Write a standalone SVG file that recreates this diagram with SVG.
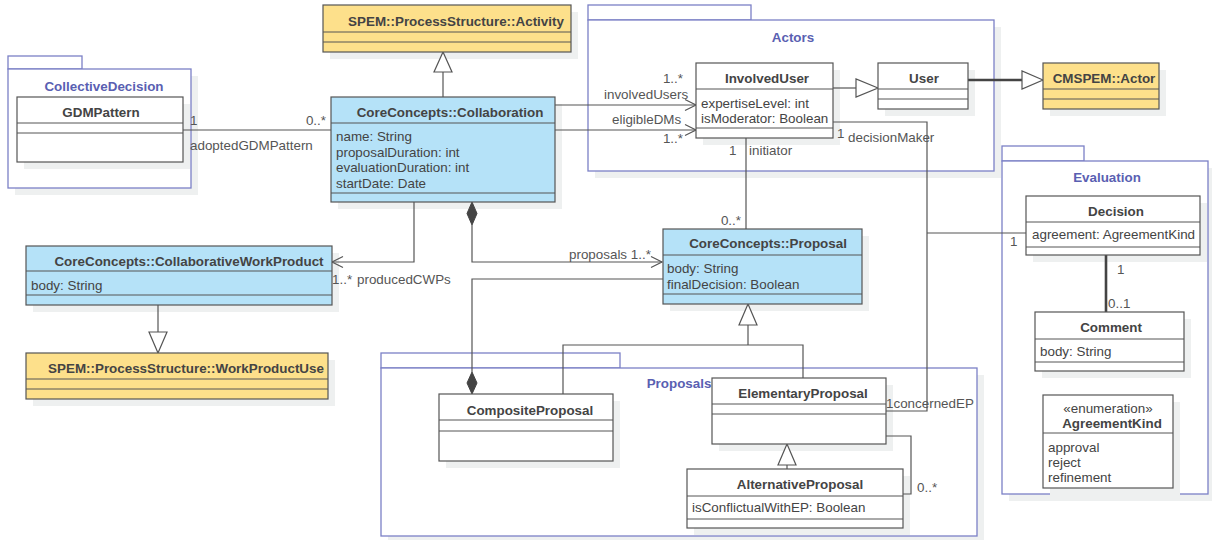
<svg xmlns="http://www.w3.org/2000/svg" width="1212" height="540" viewBox="0 0 1212 540">
<style>
.bg{fill:#fff}
.sh{fill:#eef0f0}
.c{stroke:#555;stroke-width:1.2}
.b{fill:#b5e2f8}
.y{fill:#fde08b}
.w{fill:#fff}
.s{stroke:#555;stroke-width:1}
.nm{font-family:"Liberation Sans",Arial,sans-serif;font-size:13.4px;font-weight:bold;fill:#444;text-anchor:middle}
.at{font-family:"Liberation Sans",Arial,sans-serif;font-size:13.4px;fill:#444}
.st{font-family:"Liberation Sans",Arial,sans-serif;font-size:13.4px;fill:#444;text-anchor:middle}
.pk{fill:#fff;stroke:#7b80c6;stroke-width:1.3}
.pt{font-family:"Liberation Sans",Arial,sans-serif;font-size:13.4px;font-weight:bold;fill:#5a5fb2;text-anchor:middle}
.ln{stroke:#555;fill:none;stroke-width:1.2}
.tk{stroke:#444;fill:none;stroke-width:2.6}
.tri{fill:#fff;stroke:#555;stroke-width:1.2}
.dia{fill:#444;stroke:#444;stroke-width:1}
.lb{font-family:"Liberation Sans",Arial,sans-serif;font-size:13.4px;fill:#555}
.lr{font-family:"Liberation Sans",Arial,sans-serif;font-size:13.4px;fill:#555;text-anchor:end}
</style>
<rect class="bg" x="0" y="0" width="1212" height="540"/>

<!-- packages -->
<g id="pkg-collective">
<rect class="sh" x="15" y="76" width="183" height="119"/>
<rect class="pk" x="8" y="56" width="74" height="13"/>
<rect class="pk" x="8" y="69" width="183" height="119"/>
<text class="pt" x="104" y="91">CollectiveDecision</text>
</g>
<g id="pkg-actors">
<rect class="sh" x="595" y="27" width="406" height="151"/>
<rect class="pk" x="588" y="5" width="163" height="15"/>
<rect class="pk" x="588" y="20" width="406" height="151"/>
<text class="pt" x="793" y="42">Actors</text>
</g>
<g id="pkg-evaluation">
<rect class="sh" x="1009" y="168" width="206" height="333"/>
<rect class="pk" x="1002" y="146" width="82" height="15"/>
<rect class="pk" x="1002" y="161" width="206" height="333"/>
<text class="pt" x="1107" y="182">Evaluation</text>
</g>
<g id="pkg-proposals">
<rect class="sh" x="388" y="375" width="596" height="168"/>
<rect class="pk" x="381" y="353" width="239" height="15"/>
<rect class="pk" x="381" y="368" width="596" height="168"/>
<text class="pt" x="679" y="388">Proposals</text>
</g>

<!-- class shadows -->
<g id="shadows">
<rect class="sh" x="24" y="104" width="166" height="65"/>
<rect class="sh" x="330" y="12" width="248" height="47"/>
<rect class="sh" x="338" y="104" width="224" height="105"/>
<rect class="sh" x="703" y="70" width="137" height="75"/>
<rect class="sh" x="885" y="70" width="90" height="46"/>
<rect class="sh" x="1050" y="70" width="116" height="46"/>
<rect class="sh" x="33" y="253" width="306" height="59"/>
<rect class="sh" x="33" y="360" width="302" height="46"/>
<rect class="sh" x="670" y="236" width="199" height="75"/>
<rect class="sh" x="1033" y="203" width="174" height="59"/>
<rect class="sh" x="1042" y="319" width="149" height="59"/>
<rect class="sh" x="1050" y="402" width="130" height="93"/>
<rect class="sh" x="446" y="401" width="174" height="67"/>
<rect class="sh" x="719" y="385" width="174" height="66"/>
<rect class="sh" x="694" y="476" width="216" height="59"/>
</g>

<!-- connectors -->
<g id="connectors">
<line class="ln" x1="183" y1="130" x2="331" y2="130"/>
<text class="lb" x="190" y="125">1</text>
<text class="lr" x="326" y="125">0..*</text>
<text class="lb" x="190" y="150">adoptedGDMPattern</text>
<line class="ln" x1="443" y1="97" x2="443" y2="72"/>
<polygon class="tri" points="443,52 434,72 452,72"/>
<line class="ln" x1="555" y1="105" x2="696" y2="105"/>
<polyline class="ln" points="685,99.5 696,105 685,110.5"/>
<text class="lr" x="683" y="83">1..*</text>
<text class="lb" x="604" y="99">involvedUsers</text>
<line class="ln" x1="555" y1="130" x2="696" y2="130"/>
<polyline class="ln" points="685,124.5 696,130 685,135.5"/>
<text class="lb" x="612" y="124">eligibleDMs</text>
<text class="lr" x="683" y="143">1..*</text>
<line class="ln" x1="833" y1="88" x2="856" y2="88"/>
<polygon class="tri" points="878,88 856,79 856,97"/>
<line class="tk" x1="968" y1="80" x2="1022" y2="80"/>
<polygon class="tri" points="1043,80 1022,71 1022,89"/>
<polyline class="ln" points="833,122 927,122 927,411 886,411"/>
<text class="lb" x="837" y="138">1</text>
<text class="lb" x="848" y="142">decisionMaker</text>
<text class="lb" x="886" y="408">1concernedEP</text>
<line class="ln" x1="927" y1="233" x2="1026" y2="233"/>
<text class="lb" x="1010" y="246">1</text>
<line class="tk" x1="1106" y1="255" x2="1106" y2="312"/>
<text class="lb" x="1117" y="274">1</text>
<text class="lb" x="1108" y="308">0..1</text>
<line class="ln" x1="746" y1="138" x2="746" y2="229"/>
<text class="lb" x="729" y="155">1</text>
<text class="lb" x="749" y="155">initiator</text>
<text class="lr" x="741" y="225">0..*</text>
<polyline class="ln" points="414,202 414,262 332,262"/>
<polyline class="ln" points="343,256.5 332,262 343,267.5"/>
<text class="lb" x="332" y="284">1..*</text>
<text class="lb" x="357" y="284">producedCWPs</text>
<polyline class="ln" points="472,225 472,262 662,262"/>
<polygon class="dia" points="472,202 477,213.5 472,225 467,213.5"/>
<polyline class="ln" points="651,256.5 662,262 651,267.5"/>
<text class="lb" x="569" y="259">proposals 1..*</text>
<polyline class="ln" points="663,279 472,279 472,372"/>
<polygon class="dia" points="472,372 477,383 472,394 467,383"/>
<polygon class="tri" points="748,304 739,325 757,325"/>
<polyline class="ln" points="748,325 748,345"/>
<polyline class="ln" points="563,394 563,345 803,345 803,378"/>
<line class="ln" x1="787" y1="465" x2="787" y2="469"/>
<polygon class="tri" points="787,444 778,465 796,465"/>
<polyline class="ln" points="886,436 911,436 911,494 903,494"/>
<text class="lb" x="917" y="492">0..*</text>
<line class="ln" x1="158" y1="305" x2="158" y2="332"/>
<polygon class="tri" points="158,353 149,332 167,332"/>
</g>

<!-- classes -->
<g id="GDMPattern">
<rect class="c w" x="17" y="97" width="166" height="65"/>
<line class="s" x1="17" y1="123" x2="183" y2="123"/><line class="s" x1="17" y1="133" x2="183" y2="133"/>
<text class="nm" x="101" y="117">GDMPattern</text>
</g>
<g id="Activity">
<rect class="c y" x="323" y="5" width="248" height="47"/>
<line class="s" x1="323" y1="32" x2="571" y2="32"/><line class="s" x1="323" y1="42" x2="571" y2="42"/>
<text class="nm" x="456" y="26">SPEM::ProcessStructure::Activity</text>
</g>
<g id="Collaboration">
<rect class="c b" x="331" y="97" width="224" height="105"/>
<line class="s" x1="331" y1="123" x2="555" y2="123"/><line class="s" x1="331" y1="193" x2="555" y2="193"/>
<text class="nm" x="450" y="117">CoreConcepts::Collaboration</text>
<text class="at" x="336" y="141">name: String</text>
<text class="at" x="336" y="156.5">proposalDuration: int</text>
<text class="at" x="336" y="172">evaluationDuration: int</text>
<text class="at" x="336" y="187.5">startDate: Date</text>
</g>
<g id="InvolvedUser">
<rect class="c w" x="696" y="63" width="137" height="75"/>
<line class="s" x1="696" y1="89" x2="833" y2="89"/><line class="s" x1="696" y1="128" x2="833" y2="128"/>
<text class="nm" x="767" y="83">InvolvedUser</text>
<text class="at" x="701" y="108">expertiseLevel: int</text>
<text class="at" x="701" y="123">isModerator: Boolean</text>
</g>
<g id="User">
<rect class="c w" x="878" y="63" width="90" height="46"/>
<line class="s" x1="878" y1="89" x2="968" y2="89"/><line class="s" x1="878" y1="99" x2="968" y2="99"/>
<text class="nm" x="924" y="83">User</text>
</g>
<g id="CMSPEMActor">
<rect class="c y" x="1043" y="63" width="116" height="46"/>
<line class="s" x1="1043" y1="89" x2="1159" y2="89"/><line class="s" x1="1043" y1="99" x2="1159" y2="99"/>
<text class="nm" x="1104" y="83">CMSPEM::Actor</text>
</g>
<g id="CollaborativeWorkProduct">
<rect class="c b" x="26" y="246" width="306" height="59"/>
<line class="s" x1="26" y1="271" x2="332" y2="271"/><line class="s" x1="26" y1="295" x2="332" y2="295"/>
<text class="nm" x="189" y="266">CoreConcepts::CollaborativeWorkProduct</text>
<text class="at" x="31" y="290">body: String</text>
</g>
<g id="WorkProductUse">
<rect class="c y" x="26" y="353" width="302" height="46"/>
<line class="s" x1="26" y1="379" x2="328" y2="379"/><line class="s" x1="26" y1="389" x2="328" y2="389"/>
<text class="nm" x="186" y="373">SPEM::ProcessStructure::WorkProductUse</text>
</g>
<g id="Proposal">
<rect class="c b" x="663" y="229" width="199" height="75"/>
<line class="s" x1="663" y1="255" x2="862" y2="255"/><line class="s" x1="663" y1="294" x2="862" y2="294"/>
<text class="nm" x="768" y="248">CoreConcepts::Proposal</text>
<text class="at" x="667" y="273">body: String</text>
<text class="at" x="667" y="289">finalDecision: Boolean</text>
</g>
<g id="Decision">
<rect class="c w" x="1026" y="196" width="174" height="59"/>
<line class="s" x1="1026" y1="222" x2="1200" y2="222"/><line class="s" x1="1026" y1="247" x2="1200" y2="247"/>
<text class="nm" x="1116" y="216">Decision</text>
<text class="at" x="1032" y="239">agreement: AgreementKind</text>
</g>
<g id="Comment">
<rect class="c w" x="1035" y="312" width="149" height="59"/>
<line class="s" x1="1035" y1="339" x2="1184" y2="339"/><line class="s" x1="1035" y1="362" x2="1184" y2="362"/>
<text class="nm" x="1111" y="332">Comment</text>
<text class="at" x="1040" y="356">body: String</text>
</g>
<g id="AgreementKind">
<rect class="c w" x="1043" y="395" width="130" height="93"/>
<line class="s" x1="1043" y1="433" x2="1173" y2="433"/>
<text class="st" x="1108" y="413">«enumeration»</text>
<text class="nm" x="1112" y="428">AgreementKind</text>
<text class="at" x="1048" y="452">approval</text>
<text class="at" x="1048" y="467">reject</text>
<text class="at" x="1048" y="482">refinement</text>
</g>
<g id="CompositeProposal">
<rect class="c w" x="439" y="394" width="174" height="67"/>
<line class="s" x1="439" y1="420" x2="613" y2="420"/><line class="s" x1="439" y1="431" x2="613" y2="431"/>
<text class="nm" x="530" y="415">CompositeProposal</text>
</g>
<g id="ElementaryProposal">
<rect class="c w" x="712" y="378" width="174" height="66"/>
<line class="s" x1="712" y1="404" x2="886" y2="404"/><line class="s" x1="712" y1="414" x2="886" y2="414"/>
<text class="nm" x="803" y="398">ElementaryProposal</text>
</g>
<g id="AlternativeProposal">
<rect class="c w" x="687" y="469" width="216" height="59"/>
<line class="s" x1="687" y1="496" x2="903" y2="496"/><line class="s" x1="687" y1="519" x2="903" y2="519"/>
<text class="nm" x="800" y="489">AlternativeProposal</text>
<text class="at" x="692" y="512">isConflictualWithEP: Boolean</text>
</g>
</svg>
